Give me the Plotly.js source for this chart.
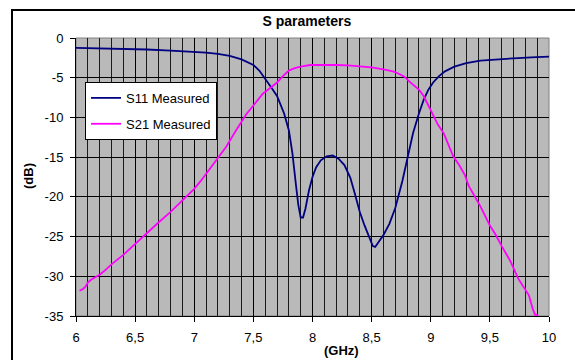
<!DOCTYPE html>
<html><head><meta charset="utf-8">
<script src="https://cdn.plot.ly/plotly-3.0.1.min.js"></script>
<style>
html,body{margin:0;padding:0;background:#fff;overflow:hidden;}
#wrap{position:relative;width:575px;height:360px;overflow:hidden;}
#chart{position:absolute;left:0;top:0;width:575px;height:360px;}
#frame{position:absolute;left:11px;top:9px;width:700px;height:500px;border-left:2px solid #000;border-top:2px solid #000;pointer-events:none;}
</style></head>
<body><div id="wrap"><div id="chart"></div><div id="frame"></div></div>
<script>
const s11Freq = [6.0,6.2,6.4,6.6,6.8,7.0,7.1,7.2,7.3,7.4,7.45,7.5,7.55,7.6,7.65,7.7,7.73,7.76,7.8,7.83,7.86,7.88,7.9,7.92,7.94,7.97,8.0,8.03,8.07,8.12,8.17,8.22,8.27,8.32,8.36,8.4,8.44,8.48,8.51,8.53,8.56,8.6,8.65,8.7,8.76,8.8,8.85,8.9,8.94,8.98,9.02,9.07,9.12,9.2,9.3,9.42,9.55,9.7,9.85,10.0];
const s11dB = [-1.25,-1.3,-1.35,-1.45,-1.6,-1.72,-1.85,-2.0,-2.25,-2.7,-3.0,-3.4,-4.1,-5.1,-6.2,-7.3,-8.3,-9.5,-11.6,-14.5,-18.5,-21.0,-22.6,-22.6,-21.5,-19.2,-17.5,-16.3,-15.4,-14.9,-14.8,-15.2,-16.0,-17.6,-19.7,-21.9,-23.6,-25.2,-26.2,-26.3,-25.7,-24.8,-23.4,-21.4,-18.0,-15.2,-12.0,-9.5,-7.8,-6.5,-5.6,-4.8,-4.2,-3.6,-3.15,-2.85,-2.7,-2.56,-2.45,-2.35];
const s21Freq = [6.03,6.06,6.08,6.1,6.13,6.2,6.25,6.3,6.4,6.5,6.6,6.7,6.8,6.9,7.0,7.06,7.1,7.2,7.27,7.35,7.44,7.5,7.58,7.65,7.7,7.75,7.8,7.85,7.9,7.98,8.1,8.2,8.3,8.4,8.5,8.6,8.68,8.73,8.78,8.82,8.86,8.9,8.94,8.98,9.02,9.06,9.11,9.15,9.19,9.24,9.29,9.32,9.35,9.42,9.5,9.55,9.6,9.67,9.74,9.8,9.83,9.86,9.88,9.91];
const s21dB = [-31.8,-31.6,-31.3,-30.8,-30.4,-29.8,-29.2,-28.5,-27.3,-25.9,-24.6,-23.2,-21.9,-20.5,-19.0,-17.9,-17.1,-15.2,-13.7,-11.7,-9.6,-8.5,-7.0,-6.2,-5.6,-4.8,-4.1,-3.8,-3.6,-3.4,-3.35,-3.4,-3.45,-3.55,-3.7,-3.95,-4.2,-4.5,-4.9,-5.5,-6.0,-6.5,-7.3,-8.5,-9.9,-10.9,-12.0,-13.4,-14.9,-16.0,-17.3,-18.6,-19.4,-21.2,-23.6,-24.8,-26.2,-28.0,-30.3,-31.6,-32.4,-34.0,-34.8,-34.95];
const xTickVals = [6,6.5,7,7.5,8,8.5,9,9.5,10];
const xTickText = ['6','6,5','7','7,5','8','8,5','9','9,5','10'];
const yTickVals = [0,-5,-10,-15,-20,-25,-30,-35];
const yTickText = ['0','-5','-10','-15','-20','-25','-30','-35'];

const F = 'Liberation Sans, Arial, sans-serif';
const traces = [
  {x:s11Freq, y:s11dB, type:'scatter', mode:'lines', name:'S11 Measured', legendgroup:'a',
   line:{color:'#000080', width:1.8}},
  {x:s21Freq, y:s21dB, type:'scatter', mode:'lines', name:'S21 Measured', legendgroup:'b',
   line:{color:'#ff00ff', width:1.8}}
];
const layout = {
  width:575, height:360,
  margin:{l:76, r:26, t:38, b:44},
  paper_bgcolor:'#ffffff', plot_bgcolor:'#b9b9b9',
  font:{family:F, size:13, color:'#000'},
  title:{text:'<b>S parameters</b>', font:{family:F, size:14, color:'#000'},
         xref:'paper', x:0.488, xanchor:'center', yref:'container', y:1-21/360, yanchor:'middle'},
  showlegend:true,
  legend:{x:0.019, y:0.842, xanchor:'left', yanchor:'top', bgcolor:'#ffffff',
          bordercolor:'#000', borderwidth:1, font:{family:F, size:13}, tracegroupgap:6,
          traceorder:'grouped'},
  xaxis:{range:[6,10], tickvals:xTickVals, ticktext:xTickText, ticks:'outside', ticklen:5,
         tickcolor:'#000', showline:true, linecolor:'#000', linewidth:1,
         showgrid:true, gridcolor:'#000', gridwidth:1, zeroline:false, ticklabelstandoff:4,
         minor:{dtick:0.1, showgrid:true, gridcolor:'#1a1a1a', gridwidth:1, ticks:''},
         tickfont:{family:F, size:13}, fixedrange:true},
  yaxis:{range:[-35,0], tickvals:yTickVals, ticktext:yTickText, ticks:'outside', ticklen:5, tickcolor:'#000',
         showline:true, linecolor:'#000', linewidth:1, showgrid:true, gridcolor:'#000',
         gridwidth:1, zeroline:false, ticklabelstandoff:4,
         tickfont:{family:F, size:13}, fixedrange:true},
  shapes:[{type:'rect', xref:'paper', yref:'paper', x0:0, x1:1, y0:0, y1:1,
           line:{color:'#808080', width:1}, layer:'below'}],
  annotations:[
    {text:'<b>(GHz)</b>', xref:'paper', yref:'paper', x:(341.5-76)/473, y:(316-350)/278,
     xanchor:'center', yanchor:'middle', showarrow:false, font:{family:F, size:13}},
    {text:'<b>(dB)</b>', xref:'paper', yref:'paper', x:(28-76)/473, y:(316-176)/278,
     xanchor:'center', yanchor:'middle', showarrow:false, textangle:-90, font:{family:F, size:13}}
  ]
};
Plotly.newPlot('chart', traces, layout, {displayModeBar:false, staticPlot:true});
</script></body></html>
